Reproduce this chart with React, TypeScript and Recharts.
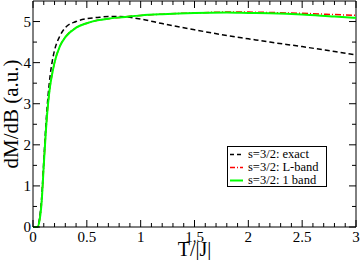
import React from "react";
import {
  LineChart,
  Line,
  XAxis,
  YAxis,
  Legend,
  ReferenceLine,
} from "recharts";

// temperature grid T/|J|
const temps = [
  0, 0.04, 0.06, 0.08, 0.1, 0.12, 0.14, 0.16, 0.18, 0.2, 0.25, 0.3, 0.4, 0.5,
  0.6, 0.7, 0.8, 1.0, 1.2, 1.5, 1.8, 2.0, 2.2, 2.5, 2.8, 3.0,
];

const exact = [
  0, 0, 0.2, 0.7, 1.6, 2.5, 3.2, 3.7, 4.05, 4.3, 4.65, 4.85, 5.0, 5.07, 5.1,
  5.12, 5.12, 5.06, 4.95, 4.8, 4.66, 4.58, 4.5, 4.39, 4.27, 4.19,
];

const lBand = [
  0, 0, 0.15, 0.6, 1.5, 2.35, 3.0, 3.45, 3.75, 4.0, 4.4, 4.62, 4.85, 4.96,
  5.03, 5.07, 5.1, 5.15, 5.18, 5.21, 5.23, 5.23, 5.22, 5.2, 5.17, 5.15,
];

const oneBand = [
  0, 0, 0.15, 0.6, 1.5, 2.35, 3.0, 3.45, 3.75, 4.0, 4.4, 4.62, 4.85, 4.96,
  5.03, 5.07, 5.1, 5.15, 5.18, 5.21, 5.22, 5.21, 5.2, 5.17, 5.12, 5.09,
];

const xMajor = [0, 0.5, 1, 1.5, 2, 2.5, 3];
const yMajor = [0, 1, 2, 3, 4, 5];
const xTicks = Array.from({ length: 31 }, (_, i) => i / 10);
const yTicks = Array.from({ length: 11 }, (_, i) => i / 2);

const data = temps.map((t, i) => ({
  t,
  exact: exact[i],
  lBand: lBand[i],
  oneBand: oneBand[i],
}));

const W = 360;
const H = 260;
const margin = { top: 1, right: 4, bottom: 0, left: 8 };
const plotTop = margin.top;
const plotRight = W - margin.right;
const font = "'Liberation Serif', 'DejaVu Serif', serif";

const isMajor = (v: number, list: number[]) =>
  list.some((m) => Math.abs(m - v) < 1e-6);

const XTick = (props: any) => {
  const { x, y, payload } = props;
  const major = isMajor(payload.value, xMajor);
  const len = major ? 7 : 4;
  return (
    <g>
      <line x1={x} x2={x} y1={y} y2={y - len} stroke="#000" />
      <line x1={x} x2={x} y1={plotTop} y2={plotTop + len} stroke="#000" />
      {major && (
        <text
          x={x}
          y={y + 15}
          textAnchor="middle"
          fontSize={15}
          fontFamily={font}
          fill="#000"
        >
          {payload.value}
        </text>
      )}
    </g>
  );
};

const YTick = (props: any) => {
  const { x, y, payload } = props;
  const major = isMajor(payload.value, yMajor);
  const len = major ? 7 : 4;
  return (
    <g>
      <line x1={x} x2={x + len} y1={y} y2={y} stroke="#000" />
      <line x1={plotRight} x2={plotRight - len} y1={y} y2={y} stroke="#000" />
      {major && (
        <text
          x={x - 2}
          y={y}
          dy="0.35em"
          textAnchor="end"
          fontSize={15}
          fontFamily={font}
          fill="#000"
        >
          {payload.value}
        </text>
      )}
    </g>
  );
};

const legendItems = [
  { label: "s=3/2: exact", color: "#000", dash: "4 3" },
  { label: "s=3/2: L-band", color: "#ff0000", dash: "5 2 1 2" },
  { label: "s=3/2: 1 band", color: "#00ff00", dash: undefined },
];

const LegendBox = () => (
  <div
    style={{
      border: "1px solid #000",
      background: "#fff",
      padding: "1px 0 0 2px",
      fontFamily: font,
      fontSize: 12.5,
      lineHeight: "13px",
      width: 100,
      height: 41,
      boxSizing: "border-box",
    }}
  >
    {legendItems.map((it) => (
      <div key={it.label} style={{ display: "flex", alignItems: "center", height: 13 }}>
        <svg width={18} height={13} style={{ flex: "none" }}>
          <line
            x1={0}
            x2={13}
            y1={6.5}
            y2={6.5}
            stroke={it.color}
            strokeWidth={it.dash ? 1.5 : 2}
            strokeDasharray={it.dash}
          />
        </svg>
        <span style={{ whiteSpace: "nowrap" }}>{it.label}</span>
      </div>
    ))}
  </div>
);

export default function App() {
  return (
    <div style={{ position: "absolute", left: 0, top: 0, background: "#fff" }}>
      <LineChart width={W} height={H} data={data} margin={margin}>
        <XAxis
          dataKey="t"
          type="number"
          domain={[0, 3]}
          ticks={xTicks}
          interval={0}
          tick={<XTick />}
          tickLine={false}
          tickSize={0}
          tickMargin={0}
          height={33}
          axisLine={{ stroke: "#000" }}
          label={{
            value: "T/|J|",
            position: "insideBottom",
            offset: 4,
            fontSize: 20,
            fontFamily: font,
            fill: "#000",
          }}
        />
        <YAxis
          type="number"
          domain={[0, 5.5]}
          ticks={yTicks}
          interval={0}
          tick={<YTick />}
          tickLine={false}
          tickSize={0}
          tickMargin={0}
          width={25}
          axisLine={{ stroke: "#000" }}
          label={{
            value: "dM/dB (a.u.)",
            angle: -90,
            position: "insideLeft",
            offset: 0,
            dx: 3,
            fontSize: 21,
            fontFamily: font,
            fill: "#000",
            style: { textAnchor: "middle" },
          }}
        />
        <ReferenceLine y={5.5} stroke="#000" />
        <ReferenceLine x={3} stroke="#000" />
        <Line
          dataKey="exact"
          type="monotone"
          stroke="#000"
          strokeWidth={1.5}
          strokeDasharray="5 3"
          dot={false}
          isAnimationActive={false}
        />
        <Line
          dataKey="lBand"
          type="monotone"
          stroke="#ff0000"
          strokeWidth={1.5}
          strokeDasharray="6 2 1 2"
          dot={false}
          isAnimationActive={false}
        />
        <Line
          dataKey="oneBand"
          type="monotone"
          stroke="#00ff00"
          strokeWidth={2}
          dot={false}
          isAnimationActive={false}
        />
        <Legend
          layout="horizontal"
          verticalAlign="middle"
          align="center"
          content={<LegendBox />}
          wrapperStyle={{ position: "absolute", left: 227, top: 146, width: 100 }}
        />
      </LineChart>
    </div>
  );
}
